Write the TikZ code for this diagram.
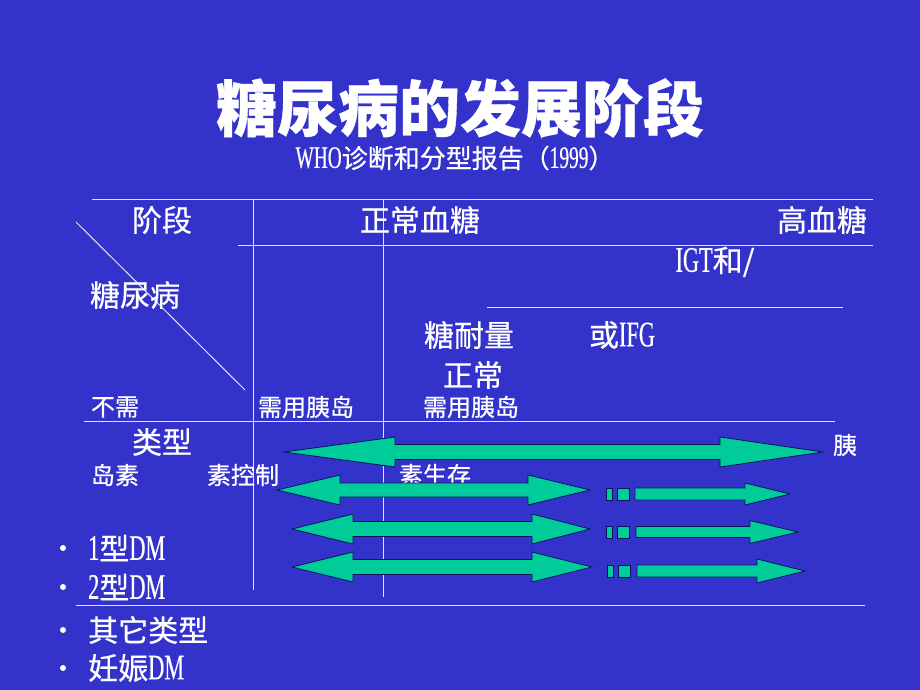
\documentclass[tikz,border=0pt]{standalone}
\usepackage{fontspec}
\setmainfont{Noto Sans CJK SC}[FakeBold=0.6]
\newfontfamily\latin{Liberation Serif}[FakeStretch=0.62,Scale=1.2,FakeBold=0.4]
\usetikzlibrary{positioning}

\definecolor{slide}{RGB}{51,51,204}
\definecolor{bandgreen}{RGB}{0,204,153}
\definecolor{navy}{RGB}{10,20,90}
\definecolor{rulecol}{RGB}{225,225,245}

\tikzset{
  grid line/.style={draw=rulecol, line width=1pt},
  heading/.style={text=white, inner sep=0pt, font=\bfseries\fontsize{61}{64}\selectfont},
  report/.style={text=white, inner sep=0pt, font=\fontsize{26}{28}\selectfont},
  big/.style={text=white, inner sep=0pt, font=\fontsize{30}{32}\selectfont},
  small/.style={text=white, inner sep=0pt, font=\fontsize{24}{26}\selectfont},
  dot/.style={circle, fill=white, inner sep=0pt, minimum size=6pt},
  band/.style={fill=bandgreen, draw=navy, line width=0.8pt, line join=miter},
}

% left tip, left base, right base, right tip, y, half shaft, half head
\newcommand{\twoway}[7]{%
  \draw[band] (#1,#5) -- (#2,#5-#7) -- (#2,#5-#6) -- (#3,#5-#6) -- (#3,#5-#7)
    -- (#4,#5) -- (#3,#5+#7) -- (#3,#5+#6) -- (#2,#5+#6) -- (#2,#5+#7) -- cycle;}
% start, base, tip, y, half shaft, half head
\newcommand{\oneway}[6]{%
  \draw[band] (#1,#4-#5) -- (#2,#4-#5) -- (#2,#4-#6) -- (#3,#4)
    -- (#2,#4+#6) -- (#2,#4+#5) -- (#1,#4+#5) -- cycle;}
\newcommand{\gapmarks}[2]{%
  \draw[band] (#1,#2-6) rectangle ++(6,12);
  \draw[band] (#1+11,#2-6) rectangle ++(12,12);}

\begin{document}
\begin{tikzpicture}[x=1pt,y=-1pt]
    \fill[slide] (0,0) rectangle (920,690);

    \node[heading] (title) at (460,108) {糖尿病的发展阶段};
    \node[report] (who) at (455,158) {{\latin WHO}诊断和分型报告（{\latin 1999}）};

    \draw[grid line] (92,199) -- (873,199);
    \draw[grid line] (238,245) -- (873,245);
    \draw[grid line] (487,307) -- (843,307);
    \draw[grid line] (84,421) -- (835,421);
    \draw[grid line] (76,605) -- (865,605);
    \draw[grid line] (253,199) -- (253,590);
    \draw[grid line] (383,199) -- (383,597);
    \draw[grid line] (76,222) -- (245,390);

    \node[big] (stage) at (162,220) {阶段};
    \node[big] (normal) at (420,220) {正常血糖};
    \node[big] (high) at (822,220) {高血糖};
    \node[big] (igt) at (715,262) {{\latin IGT}和/};
    \node[big] (disease) at (135,295) {糖尿病};
    \node[big] (tolerance) at (469,335) {糖耐量};
    \node[big] (ifg) at (622,335) {或{\latin IFG}};
    \node[big] (normal2) at (473,375) {正常};
    \node[small] (noneed) at (115,407) {不需};
    \node[small] (need1) at (306,407) {需用胰岛};
    \node[small] (need2) at (471,407) {需用胰岛};
    \node[big] (types) at (162,442) {类型};
    \node[small] (insulin) at (115,475) {岛素};
    \node[small] (control) at (243,475) {素控制};
    \node[small] (survive) at (435,475) {素生存};
    \node[small] (pan) at (845,445) {胰};

    \node[dot] (b1) at (63,548) {};
    \node[dot] (b2) at (63,587) {};
    \node[dot] (b3) at (63,630) {};
    \node[dot] (b4) at (63,668) {};
    \node[big,anchor=west] (type1) at (88,548) {{\latin 1}型{\latin DM}};
    \node[big,anchor=west] (type2) at (88,587) {{\latin 2}型{\latin DM}};
    \node[big,anchor=west] (other) at (88,630) {其它类型};
    \node[big,anchor=west] (gdm) at (88,668) {妊娠{\latin DM}};

    \twoway{284}{395}{720}{823}{452}{7.5}{15}
    \twoway{277}{340}{528}{590}{490}{7}{15}
    \twoway{292}{353}{532}{590}{529}{7.5}{15}
    \twoway{292}{353}{532}{592}{567}{7.5}{15}

    \gapmarks{606}{494}
    \gapmarks{606}{532}
    \gapmarks{607}{571}
    \oneway{635}{745}{790}{494}{6}{11}
    \oneway{636}{750}{798}{532}{5.5}{11.5}
    \oneway{637}{757}{805}{571}{6}{12}
\end{tikzpicture}
\end{document}
